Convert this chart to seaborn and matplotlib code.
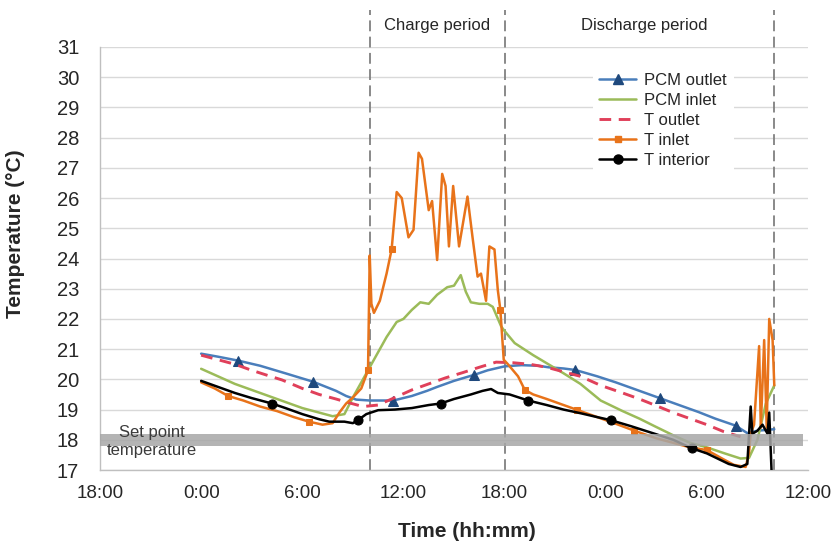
import matplotlib
matplotlib.use("Agg")
import matplotlib.pyplot as plt
import matplotlib.transforms as mtransforms
from matplotlib.lines import Line2D
import seaborn as sns

# ---------------- data (time in hours from 0:00 of day 1) ----------------
XTICKS_H = [-6, 0, 6, 12, 18, 24, 30, 36]
XTICK_LABELS = ["18:00", "0:00", "6:00", "12:00", "18:00", "0:00", "6:00", "12:00"]
YTICKS = list(range(17, 32))
PERIOD_BOUNDS_H = [10, 18, 34]
PERIOD_NAMES = ["Charge period", "Discharge period"]
SET_POINT = 18.0
SET_POINT_HALF_WIDTH = 0.2

PCM_OUT_H = [0, 1, 2.2, 3.5, 5, 6.65, 8, 8.6, 9.2, 10, 11.4, 12.5, 13.4, 14, 15, 16.2, 17, 18,
             19, 20, 20.6, 21.5, 22.2, 23.5, 24.6, 26, 27.2, 28.5, 29.5, 30.5, 31.7, 32.4, 33, 34]
PCM_OUT_T = [20.85, 20.75, 20.62, 20.45, 20.2, 19.92, 19.62, 19.45, 19.33, 19.3, 19.3, 19.45, 19.62,
             19.75, 19.95, 20.15, 20.3, 20.43, 20.47, 20.45, 20.4, 20.36, 20.31, 20.1, 19.9, 19.62,
             19.38, 19.12, 18.92, 18.7, 18.47, 18.22, 18.3, 18.35]
PCM_OUT_MARK_H = [2.2, 6.65, 11.4, 16.2, 22.2, 27.2, 31.7]

PCM_IN_H = [0, 1, 2, 3, 4, 5, 6, 7, 7.8, 8.5, 9, 9.9, 10.5, 11, 11.6, 12, 12.5, 13, 13.5, 14,
            14.6, 15, 15.4, 15.7, 16, 16.5, 17, 17.3, 17.8, 18, 18.6, 19.7, 20.6, 21.5, 22.5,
            23.7, 25, 26, 26.9, 28, 29, 30, 31, 32, 32.5, 33, 33.5, 34]
PCM_IN_T = [20.35, 20.1, 19.85, 19.65, 19.45, 19.25, 19.05, 18.9, 18.78, 18.85, 19.4, 20.3, 20.9,
            21.4, 21.9, 22.0, 22.3, 22.55, 22.5, 22.8, 23.05, 23.1, 23.45, 22.9, 22.55, 22.5, 22.5,
            22.4, 21.75, 21.6, 21.2, 20.8, 20.5, 20.2, 19.85, 19.3, 18.95, 18.7, 18.45, 18.15,
            17.9, 17.75, 17.56, 17.38, 17.4, 18.0, 19.2, 19.8]

T_OUT_H = [0, 1, 2, 3, 4, 4.8, 6, 7, 8, 8.6, 9.6, 10.5, 11.5, 12.5, 13.5, 14.5, 15.5, 16.5,
           17.5, 18.5, 19.5, 20.5, 21.5, 22.5, 23.7, 25, 26, 26.9, 28, 29, 30, 31, 32]
T_OUT_T = [20.8, 20.65, 20.5, 20.3, 20.12, 19.98, 19.7, 19.5, 19.35, 19.25, 19.1, 19.15, 19.4,
           19.65, 19.85, 20.05, 20.22, 20.4, 20.57, 20.55, 20.5, 20.4, 20.25, 20.1, 19.8, 19.55,
           19.35, 19.15, 18.9, 18.7, 18.5, 18.27, 18.1]

T_IN_H = [0, 0.8, 1.6, 2.5, 3.5, 4.5, 5.5, 6.4, 7.2, 7.8, 8.2, 8.6, 9, 9.5, 9.9, 10.0, 10.1,
          10.25, 10.6, 11, 11.3, 11.6, 11.9, 12.3, 12.6, 12.9, 13.1, 13.5, 13.7, 14.0, 14.3,
          14.5, 14.7, 14.95, 15.3, 15.8, 16.1, 16.4, 16.6, 16.9, 17.1, 17.4, 17.6, 17.75, 17.95,
          18.2, 18.8, 19.2, 19.7, 20.5, 21.5, 22.3, 23.5, 24.5, 25.7, 27, 28, 29, 30, 31, 31.6,
          32.3, 32.5, 32.6, 32.8, 33.1, 33.2, 33.4, 33.55, 33.7, 33.9, 34]
T_IN_T = [19.9, 19.7, 19.45, 19.3, 19.1, 18.95, 18.75, 18.6, 18.5, 18.55, 18.9, 19.2, 19.4, 19.7,
          20.3, 24.1, 22.5, 22.2, 22.6, 23.5, 24.3, 26.2, 26.0, 24.7, 24.95, 27.5, 27.3, 25.6, 25.9,
          23.95, 26.8, 26.4, 24.4, 26.4, 24.4, 26.05, 24.7, 23.4, 23.5, 22.6, 24.4, 24.3, 22.95,
          22.3, 20.65, 20.5, 20.1, 19.65, 19.5, 19.35, 19.15, 18.99, 18.75, 18.55, 18.3, 18.05,
          17.9, 17.75, 17.66, 17.35, 17.17, 17.1, 17.56, 18.2, 18.5, 21.1, 18.4, 21.3, 18.4, 22.0,
          21.3, 19.8]
T_IN_MARK_H = [1.6, 6.4, 9.9, 11.3, 17.75, 19.2, 22.3, 25.7, 30]

T_INT_H = [0, 1, 2, 3, 4.2, 5, 6, 7, 7.6, 8.5, 9, 9.3, 9.8, 10.5, 11.5, 12.5, 13.5, 14.2, 15, 16,
           16.7, 17.2, 17.6, 18.3, 19.4, 20.5, 21.5, 22.5, 23.5, 24.3, 25.5, 26.9, 28, 29.1, 30,
           31.3, 32, 32.4, 32.6, 32.7, 33, 33.3, 33.6, 33.7, 33.85]
T_INT_T = [19.95, 19.75, 19.55, 19.38, 19.2, 19.05, 18.85, 18.68, 18.6, 18.6, 18.55, 18.65, 18.85,
           18.98, 19.0, 19.05, 19.15, 19.2, 19.35, 19.5, 19.62, 19.68, 19.55, 19.5, 19.3, 19.15,
           19.0, 18.88, 18.75, 18.65, 18.45, 18.2, 18.0, 17.72, 17.55, 17.2, 17.1, 17.2, 19.1,
           18.2, 18.3, 18.5, 18.2, 18.9, 16.8]
T_INT_MARK_H = [4.2, 9.3, 14.2, 19.4, 24.3, 29.1]

# ---------------- style ----------------
sns.set_style("white")
plt.rcParams["font.family"] = ["Liberation Sans", "DejaVu Sans"]
TXT = "#262626"

fig = plt.figure(figsize=(8.35, 5.45), dpi=100)
ax = fig.add_axes([100 / 835, 75 / 545, 708 / 835, 423 / 545])

C_BLUE, C_BLUE_M = "#4A7EBB", "#1F497D"
C_GREEN = "#9BBB59"
C_RED = "#E0405A"
C_ORANGE = "#E8731A"
C_BLACK = "#000000"
LW = 1.8


def draw(h, t, color, ls="-", lw=LW, marker=None, mark_h=None, ms=6, mfc=None, z=3):
    kw = {}
    if marker is not None:
        kw.update(marker=marker, markevery=[h.index(v) for v in mark_h], markersize=ms,
                  markerfacecolor=mfc or color, markeredgecolor=mfc or color)
    sns.lineplot(x=h, y=t, ax=ax, color=color, estimator=None, sort=False, legend=False,
                 linestyle=ls, linewidth=lw, zorder=z, **kw)


draw(PCM_OUT_H, PCM_OUT_T, C_BLUE, marker="^", mark_h=PCM_OUT_MARK_H, ms=7, mfc=C_BLUE_M, z=3)
draw(PCM_IN_H, PCM_IN_T, C_GREEN, z=3.1)
draw(T_OUT_H, T_OUT_T, C_RED, ls=(0, (4, 2.6)), lw=2.1, z=3.2)
draw(T_IN_H, T_IN_T, C_ORANGE, marker="s", mark_h=T_IN_MARK_H, ms=4.5, z=3.3)
draw(T_INT_H, T_INT_T, C_BLACK, marker="o", mark_h=T_INT_MARK_H, ms=6.5, z=3.4)

# set point band
ax.axhspan(SET_POINT - SET_POINT_HALF_WIDTH, SET_POINT + SET_POINT_HALF_WIDTH,
           xmin=0, xmax=0.993, color="#A7A7A7", alpha=0.85, lw=0, zorder=5)
ax.text(-2.9, SET_POINT - 0.05, "Set point\ntemperature", ha="center", va="center",
        fontsize=12, color="#3A3A3A", linespacing=1.25, zorder=6)

# period boundaries
for b in PERIOD_BOUNDS_H:
    ax.axvline(b, ymin=0, ymax=1.087, color="#808080", lw=1.3, ls=(0, (6, 3)),
               clip_on=False, zorder=2)
trans = mtransforms.blended_transform_factory(ax.transData, ax.transAxes)
for (a, b), name in zip(zip(PERIOD_BOUNDS_H[:-1], PERIOD_BOUNDS_H[1:]), PERIOD_NAMES):
    ax.text((a + b) / 2 + (0.3 if name.startswith("D") else 0), 1.052, name, transform=trans,
            ha="center", va="center", fontsize=12, color=TXT)

# axes
ax.set_xlim(-6, 36)
ax.set_ylim(17, 31)
ax.set_xticks(XTICKS_H)
ax.set_xticklabels(XTICK_LABELS)
ax.set_yticks(YTICKS)
ax.grid(axis="y", color="#D9D9D9", lw=1.0, zorder=0)
ax.grid(axis="x", visible=False)
ax.set_axisbelow(True)
for s in ["top", "right"]:
    ax.spines[s].set_visible(False)
for s in ["left", "bottom"]:
    ax.spines[s].set_color("#BFBFBF")
    ax.spines[s].set_linewidth(1.0)
ax.tick_params(axis="x", which="major", length=5, width=1, color="#BFBFBF",
               labelsize=13.5, labelcolor=TXT, direction="out", pad=6)
ax.tick_params(axis="y", which="major", length=5, width=1, color="#BFBFBF",
               labelsize=14.5, labelcolor=TXT, direction="out", pad=10)

ax.set_xlabel("Time (hh:mm)", fontsize=15, fontweight="bold", color=TXT)
ax.set_ylabel("Temperature (°C)", fontsize=15, fontweight="bold", color=TXT)
ax.xaxis.set_label_coords(0.518, -0.123)
ax.yaxis.set_label_coords(-0.106, 0.558)

handles = [
    Line2D([], [], color=C_BLUE, lw=LW, marker="^", ms=7, mfc=C_BLUE_M, mec=C_BLUE_M),
    Line2D([], [], color=C_GREEN, lw=LW),
    Line2D([], [], color=C_RED, lw=2.1, ls=(0, (4, 2.6))),
    Line2D([], [], color=C_ORANGE, lw=LW, marker="s", ms=4.5),
    Line2D([], [], color=C_BLACK, lw=LW, marker="o", ms=6.5),
]
labels = ["PCM outlet", "PCM inlet", "T outlet", "T inlet", "T interior"]
leg = ax.legend(handles, labels, loc="upper left", bbox_to_anchor=(0.696, 0.955),
                borderaxespad=0, frameon=True, facecolor="white", edgecolor="none",
                framealpha=1, fontsize=12, handlelength=2.2, handletextpad=0.5,
                labelspacing=0.3, borderpad=0.4, numpoints=1)
for t in leg.get_texts():
    t.set_color(TXT)
leg.set_zorder(7)

fig.savefig("out.png", dpi=100, facecolor="white")
